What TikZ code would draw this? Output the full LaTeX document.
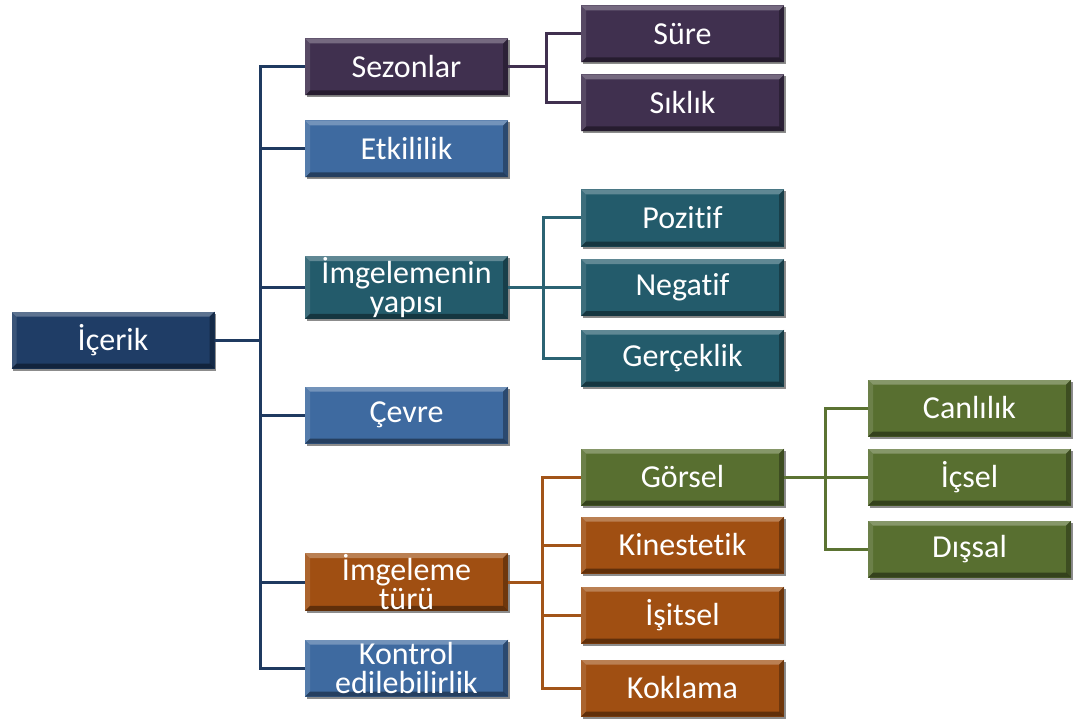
\documentclass[tikz,border=0pt]{standalone}
\usepackage{fontspec}
\setmainfont{Carlito}[Ligatures={NoCommon}]
\usetikzlibrary{calc,shadows}

% box fills
\definecolor{navyB}{HTML}{1F3D66}
\definecolor{purpleB}{HTML}{40304F}
\definecolor{blueB}{HTML}{3E6AA0}
\definecolor{tealB}{HTML}{235B6B}
\definecolor{orangeB}{HTML}{A04F12}
\definecolor{greenB}{HTML}{586F30}
% connector colours
\definecolor{navyL}{HTML}{1F3A60}
\definecolor{purpleL}{HTML}{40304F}
\definecolor{tealL}{HTML}{2B6373}
\definecolor{orangeL}{HTML}{A25418}
\definecolor{greenL}{HTML}{5B7332}

\tikzset{
  box/.style={rectangle, minimum width=152.25pt, minimum height=42.75pt,
    inner sep=1pt, text=white, align=center,
    font=\fontsize{24}{21.5}\selectfont,
    drop shadow={shadow xshift=1.2pt, shadow yshift=-1.5pt, opacity=0.45, fill=black},
    path picture={
      \coordinate (ppnw) at (path picture bounding box.north west);
      \coordinate (ppne) at (path picture bounding box.north east);
      \coordinate (ppsw) at (path picture bounding box.south west);
      \coordinate (ppse) at (path picture bounding box.south east);
      % bevel facets
      \fill[white,opacity=.28] (ppnw) -- (ppne) -- ($(ppne)+(-3.75pt,-3.75pt)$)
        -- ($(ppnw)+(3.75pt,-3.75pt)$) -- cycle;
      \fill[white,opacity=.12] (ppnw) -- ($(ppnw)+(3.75pt,-3.75pt)$)
        -- ($(ppsw)+(3.75pt,3.75pt)$) -- (ppsw) -- cycle;
      \fill[black,opacity=.30] (ppne) -- (ppse) -- ($(ppse)+(-3.75pt,3.75pt)$)
        -- ($(ppne)+(-3.75pt,-3.75pt)$) -- cycle;
      \fill[black,opacity=.40] (ppsw) -- (ppse) -- ($(ppse)+(-3.75pt,3.75pt)$)
        -- ($(ppsw)+(3.75pt,3.75pt)$) -- cycle;
    }},
  link/.style={line width=2.25pt},
}

\begin{document}
\begin{tikzpicture}[x=0.75pt, y=-0.75pt]
\useasboundingbox (0,0) rectangle (1073,720);

% root
\node[box, fill=navyB] (icerik) at (113,340) {İçerik};

% first level
\node[box, fill=purpleB] (sez)    at (406.5,67)  {Sezonlar};
\node[box, fill=blueB]   (etk)    at (406.5,149) {Etkililik};
\node[box, fill=tealB]   (yapi)   at (406.5,287.5) {İmgelemenin\\yapısı};
\node[box, fill=blueB]   (cevre)  at (406.5,415) {Çevre};
\node[box, fill=orangeB] (tur)    at (406.5,582) {İmgeleme\\türü};
\node[box, fill=blueB]   (kontrol) at (406.5,668) {Kontrol\\edilebilirlik};

% second level
\node[box, fill=purpleB] (sure)   at (682.5,34)  {Süre};
\node[box, fill=purpleB] (siklik) at (682.5,103) {Sıklık};
\node[box, fill=tealB]   (poz)    at (682.5,218) {Pozitif};
\node[box, fill=tealB]   (neg)    at (682.5,287.5) {Negatif};
\node[box, fill=tealB]   (gerc)   at (682.5,358) {Gerçeklik};
\node[box, fill=greenB]  (gorsel) at (682.5,477) {Görsel};
\node[box, fill=orangeB] (kin)    at (682.5,545) {Kinestetik};
\node[box, fill=orangeB] (isit)   at (682.5,615) {İşitsel};
\node[box, fill=orangeB] (kok)    at (682.5,688) {Koklama};

% third level
\node[box, fill=greenB] (canli) at (969.5,408) {Canlılık};
\node[box, fill=greenB] (icsel) at (969.5,477) {İçsel};
\node[box, fill=greenB] (dissal) at (969.5,549) {Dışsal};

% junction points
\coordinate (j0) at (260,340);
\coordinate (j1) at (546,67);
\coordinate (j2) at (543,287.5);
\coordinate (j3) at (542,582);
\coordinate (j4) at (825,477);

% connectors
\draw[link, navyL] (icerik.east) -- (j0);
\foreach \c in {sez,etk,yapi,cevre,tur,kontrol}
  \draw[link, navyL] (j0) |- (\c.west);

\draw[link, purpleL] (sez.east) -- (j1);
\foreach \c in {sure,siklik}
  \draw[link, purpleL] (j1) |- (\c.west);

\draw[link, tealL] (yapi.east) -- (j2);
\foreach \c in {poz,neg,gerc}
  \draw[link, tealL] (j2) |- (\c.west);

\draw[link, orangeL] (tur.east) -- (j3);
\foreach \c in {gorsel,kin,isit,kok}
  \draw[link, orangeL] (j3) |- (\c.west);

\draw[link, greenL] (gorsel.east) -- (j4);
\foreach \c in {canli,icsel,dissal}
  \draw[link, greenL] (j4) |- (\c.west);
\end{tikzpicture}
\end{document}
